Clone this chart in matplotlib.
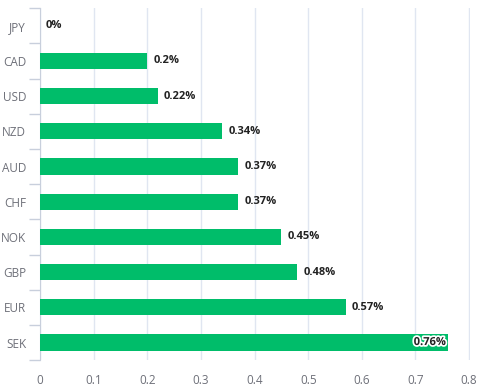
import numpy as np
import matplotlib.pyplot as plt
import matplotlib.patheffects as pe

currencies = ["JPY", "CAD", "USD", "NZD", "AUD", "CHF", "NOK", "GBP", "EUR", "SEK"]
changes = [0.0, 0.2, 0.22, 0.34, 0.37, 0.37, 0.45, 0.48, 0.57, 0.76]
value_labels = ["0%", "0.2%", "0.22%", "0.34%", "0.37%", "0.37%", "0.45%", "0.48%", "0.57%", "0.76%"]
x_ticks = [0, 0.1, 0.2, 0.3, 0.4, 0.5, 0.6, 0.7, 0.8]

plt.rcParams['font.family'] = ['Open Sans', 'DejaVu Sans']

fig = plt.figure(figsize=(4.78, 3.91), dpi=100)
ax = fig.add_axes([0.0837, 0.079, 0.9, 0.9])

y = np.arange(len(currencies))
ax.barh(y, changes, height=0.46, color="#00bd6a", zorder=3)

for yi, v, lab in zip(y, changes, value_labels):
    if v > 0.7:
        ax.text(v - 0.003, yi, lab, ha="right", va="center", fontsize=8,
                fontweight="bold", color="#222222", zorder=4,
                path_effects=[pe.withStroke(linewidth=2.5, foreground="white")])
    else:
        ax.text(v + 0.011, yi, lab, ha="left", va="center", fontsize=8,
                fontweight="bold", color="#222222", zorder=4)

ax.set_xlim(0, 0.802)
ax.set_ylim(len(currencies) - 0.5, -0.5)
ax.set_xticks(x_ticks)
ax.set_xticklabels([f"{t:g}" for t in x_ticks], color="#6e7079", fontsize=8.5)
ax.tick_params(axis="x", length=0, pad=10)

ax.set_yticks(y)
ax.set_yticklabels(currencies, color="#6e7079", fontsize=8.5)
ax.set_yticks(np.arange(-0.5, len(currencies)), minor=True)
ax.tick_params(axis="y", which="major", length=0, pad=10)
ax.tick_params(axis="y", which="minor", length=8, color="#c8cfdc", width=1)

ax.grid(axis="x", color="#e0e6f1", linewidth=1, zorder=0)
for s in ["top", "right", "bottom"]:
    ax.spines[s].set_visible(False)
ax.spines["left"].set_color("#c8cfdc")

plt.savefig("out.png", dpi=100)
